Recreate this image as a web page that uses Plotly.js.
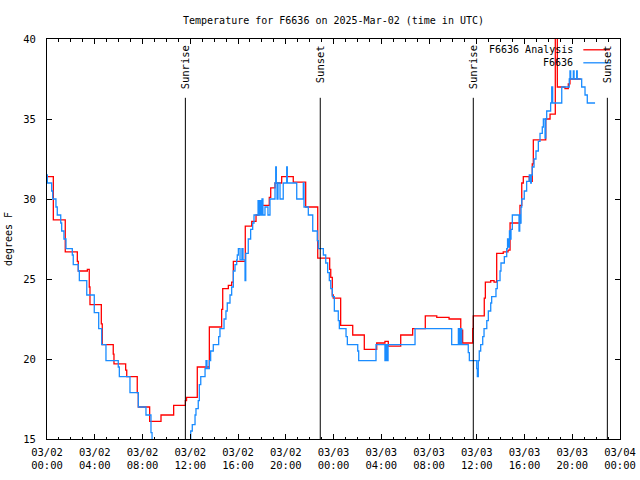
<!DOCTYPE html>
<html>
<head>
<meta charset="utf-8">
<script src="https://cdn.plot.ly/plotly-3.0.1.min.js"></script>
<style>html,body{margin:0;padding:0;background:#fff}#chart{width:640px;height:480px}</style>
</head>
<body>
<div id="chart"></div>
<script>
// Hours since 2025-03-02 00:00 UTC
var analysisHours = [0.00,0.53,1.53,2.54,2.62,3.38,3.54,3.60,4.55,4.63,5.55,5.61,6.59,6.68,7.56,7.65,8.60,9.55,10.61,11.59,11.69,12.59,13.60,14.63,14.72,15.19,15.47,15.61,16.61,17.15,17.51,17.76,18.62,18.74,19.10,19.66,20.63,21.67,22.68,23.68,23.77,23.90,23.98,24.60,25.61,26.58,27.62,28.31,28.59,29.63,30.63,31.69,32.65,33.68,34.66,34.82,35.66,35.71,36.63,36.72,37.17,37.45,37.67,38.22,38.62,38.79,39.62,39.77,39.90,40.40,40.65,40.74,41.78,42.14,42.58,42.75,43.39,43.67,43.81,44.71];
var analysisTemp  = [31.4,28.7,26.7,26.1,25.5,25.6,24.5,23.4,22.2,20.9,20.3,19.7,19.3,18.9,17.9,17.0,16.1,16.5,17.1,17.4,17.6,19.5,22.0,23.1,24.4,24.6,24.8,26.1,28.3,28.6,29.0,29.6,30.1,30.7,31.0,31.4,31.05,29.5,26.3,25.6,25.1,24.0,23.8,22.1,21.5,20.6,21.0,21.1,20.8,21.5,21.9,22.7,22.6,22.5,21.8,21.0,21.9,22.7,23.8,24.8,24.9,24.8,26.6,26.7,26.8,28.5,29.6,31.0,31.4,31.1,32.2,33.7,35.0,35.3,45.0,37.0,36.9,37.2,37.5,37.5];

var obsHours = [0.00,0.03,0.39,0.48,0.75,0.86,1.15,1.23,1.42,1.59,2.12,2.20,2.62,2.71,3.33,3.96,4.33,4.58,4.94,5.97,6.06,6.95,7.65,8.29,8.71,8.80,10.30,11.14,12.04,12.17,12.40,12.48,12.67,12.76,12.88,13.24,13.32,13.40,13.60,13.71,13.93,14.38,14.49,14.83,14.99,15.10,15.33,15.47,15.61,15.75,15.89,15.94,16.03,16.17,16.33,16.42,16.59,16.65,16.86,17.06,17.23,17.34,17.68,17.76,17.84,17.93,18.01,18.09,18.26,18.51,18.68,19.10,19.16,19.21,19.27,19.35,19.52,19.79,20.08,20.13,20.92,21.47,21.53,21.89,22.26,22.64,22.73,23.15,23.35,23.51,23.65,23.77,23.90,24.07,24.40,24.49,25.05,25.16,26.03,26.11,27.56,28.31,28.37,28.48,28.57,30.83,33.90,34.46,34.56,34.64,34.74,35.29,35.38,36.00,36.05,36.13,36.21,36.33,36.50,36.61,36.84,36.97,37.17,37.25,37.61,37.72,37.95,38.03,38.31,38.51,38.58,38.66,38.74,38.83,38.87,38.98,39.54,39.60,39.65,39.71,39.77,39.98,40.18,40.40,40.52,40.57,40.65,40.80,40.96,41.16,41.30,41.49,41.58,41.72,41.78,41.86,42.19,42.28,42.36,43.12,43.75,43.81,43.87,44.09,44.15,44.37,44.42,44.79,45.07,45.26,45.91];
var obsTemp  = [31.5,31.0,30.5,30.0,29.5,29.0,28.5,28.0,27.5,26.9,26.5,25.9,25.5,24.9,24.0,22.9,21.9,20.9,19.9,19.5,18.9,17.9,17.0,16.5,15.4,14.5,14.0,14.4,15.5,15.9,16.5,16.9,17.4,18.4,18.9,19.4,19.9,19.4,19.9,20.5,20.9,21.4,21.9,22.5,23.0,23.5,24.0,24.5,25.5,25.9,26.2,26.5,26.9,26.2,26.9,26.2,24.9,26.6,27.5,28.1,28.5,29.0,29.9,29.0,29.9,29.0,30.0,29.0,29.5,29.0,30.0,31.0,32.0,31.0,30.0,31.0,30.0,31.0,32.0,31.0,30.0,31.0,29.5,29.0,28.0,27.4,26.9,26.5,26.0,25.4,24.9,24.4,23.9,23.0,22.4,21.9,21.4,20.9,20.5,19.9,20.9,19.9,20.9,19.9,20.9,21.9,20.9,21.9,20.9,21.9,20.9,20.4,19.9,19.4,18.9,19.9,20.5,20.9,21.4,21.9,22.4,23.0,23.5,23.9,24.4,24.9,25.5,26.0,26.4,26.9,27.5,27.0,28.0,27.5,28.1,29.0,28.0,29.0,28.5,29.5,30.0,30.5,31.1,31.5,31.0,31.5,32.0,32.5,33.0,33.6,34.1,34.5,35.0,33.8,35.0,35.5,36.0,37.0,36.0,37.0,37.5,38.0,37.5,38.0,37.5,38.0,37.5,37.0,36.5,36.0,36.0];

var sunLabels = ['Sunrise','Sunset','Sunrise','Sunset'];
var sunHours  = [11.59, 22.89, 35.71, 46.94];

var seriesNames = ['F6636 Analysis','F6636'];
var seriesColors = ['#ff0000','#1a8cff'];

var BASE = Date.UTC(2025,2,2,0,0,0);
function toDate(h){
  return new Date(BASE + Math.round(h*3600000)).toISOString().replace('T',' ').slice(0,19);
}

var FONT = 'DejaVu Sans Mono, monospace';

var traces = [
  {x: analysisHours.map(toDate), y: analysisTemp, type:'scatter', mode:'lines',
   line:{shape:'hv', color:seriesColors[0], width:1.3}, name:seriesNames[0], showlegend:false},
  {x: obsHours.map(toDate), y: obsTemp, type:'scatter', mode:'lines',
   line:{shape:'hv', color:seriesColors[1], width:1.3}, name:seriesNames[1], showlegend:false}
];

var shapes = [], annotations = [];
for (var i=0;i<sunHours.length;i++){
  shapes.push({type:'line', xref:'x', yref:'paper', x0:toDate(sunHours[i]), x1:toDate(sunHours[i]),
    y0:0, y1:0.853, line:{color:'#000', width:1}});
  annotations.push({xref:'x', yref:'paper', x:toDate(sunHours[i]), y:0.99, yanchor:'top', xanchor:'center',
    text:sunLabels[i], textangle:-90, showarrow:false, font:{family:FONT, size:10.5, color:'#000'}});
}
// legend key (gnuplot style: text then sample)
for (var j=0;j<seriesNames.length;j++){
  var yy = 0.973 - j*0.0325;
  annotations.push({xref:'paper', yref:'paper', x:0.9215, y:yy, xanchor:'right', yanchor:'middle',
    text:seriesNames[j], showarrow:false, font:{family:FONT, size:10, color:'#000'}});
  shapes.push({type:'line', xref:'paper', yref:'paper', x0:0.936, x1:0.9825, y0:yy, y1:yy,
    line:{color:seriesColors[j], width:1.3}});
}

var layout = {
  width:640, height:480,
  margin:{l:47, r:20, t:39, b:41, pad:0},
  paper_bgcolor:'#fff', plot_bgcolor:'#fff',
  font:{family:FONT, size:10, color:'#000'},
  title:{text:'Temperature for F6636 on 2025-Mar-02 (time in UTC)', x:0.5, xref:'paper', y:0.958, yref:'container', yanchor:'middle', font:{family:FONT, size:10}},
  xaxis:{type:'date', range:[toDate(0), toDate(48)], tick0:toDate(0), dtick:4*3600000,
    tickformat:'%m/%d<br>%H:%M', ticks:'inside', ticklen:5, tickcolor:'#000', ticklabelstandoff:3,
    minor:{dtick:3600000, ticks:'inside', ticklen:2.5, tickcolor:'#000'},
    showline:true, linecolor:'#000', linewidth:1, mirror:'allticks', showgrid:false, zeroline:false,
    tickfont:{family:FONT, size:10.5}},
  yaxis:{range:[15,40], dtick:5, tick0:15, ticks:'inside', ticklen:5, tickcolor:'#000', ticklabelstandoff:8,
    showline:true, linecolor:'#000', linewidth:1, mirror:'allticks', showgrid:false, zeroline:false,
    tickfont:{family:FONT, size:10.5},
    title:{text:'degrees F', font:{family:FONT, size:10}, standoff:8}},
  shapes:shapes, annotations:annotations, showlegend:false
};

Plotly.newPlot('chart', traces, layout, {staticPlot:true, displayModeBar:false});
</script>
</body>
</html>
